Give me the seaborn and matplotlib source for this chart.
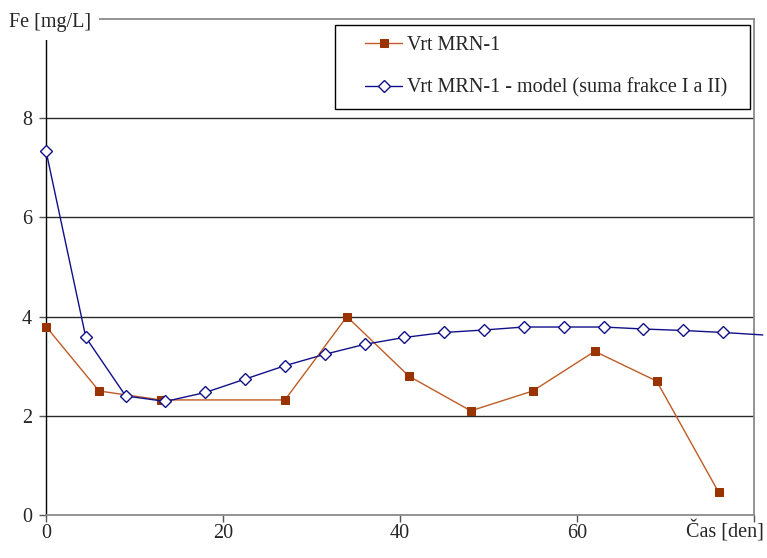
import matplotlib
matplotlib.use("Agg")
import matplotlib.pyplot as plt
from matplotlib.legend_handler import HandlerLine2D
import seaborn as sns
import pandas as pd

# Measured iron concentration in well MRN-1
days_measured = [0, 6, 13, 27, 34, 41, 48, 55, 62, 69, 76]
fe_measured = [3.8, 2.5, 2.32, 2.32, 4.0, 2.8, 2.1, 2.5, 3.3, 2.7, 0.46]

# Model (sum of fractions I and II)
days_model = [0, 4.5, 9, 13.5, 18, 22.5, 27, 31.5, 36, 40.5, 45, 49.5,
              54, 58.5, 63, 67.5, 72, 76.5, 81]
fe_model = [7.34, 3.58, 2.40, 2.29, 2.47, 2.74, 3.01, 3.24, 3.44, 3.58, 3.68,
            3.73, 3.79, 3.79, 3.79, 3.75, 3.72, 3.68, 3.63]

label_measured = "Vrt MRN-1"
label_model = "Vrt MRN-1 - model (suma frakce I a II)"
x_ticks = [0, 20, 40, 60, 80]
x_tick_labels = ["0", "20", "40", "60", ""]
y_ticks = [0, 2, 4, 6, 8]
y_tick_labels = ["0", "2", "4", "6", "8"]
x_title = "Čas [den]"
y_title = "Fe [mg/L]"

FS = 14.5

sns.set_style("white")
plt.rcParams["font.family"] = ["Liberation Serif", "DejaVu Serif"]
plt.rcParams["font.size"] = FS

df_meas = pd.DataFrame({"t": days_measured, "fe": fe_measured})
df_model = pd.DataFrame({"t": days_model, "fe": fe_model})

fig = plt.figure(figsize=(7.67, 5.58), dpi=100)
ax = fig.add_axes([46 / 767, 1 - 515 / 558, (754 - 46) / 767, (515 - 19) / 558])

sns.lineplot(data=df_meas, x="t", y="fe", ax=ax, color="#bf5b24", lw=1.0,
             marker="s", markersize=6, markerfacecolor="#993300",
             markeredgecolor="#993300", label=label_measured, zorder=3,
             clip_on=False)
sns.lineplot(data=df_model, x="t", y="fe", ax=ax, color="#10108a", lw=1.0,
             marker="D", markersize=6.5, markerfacecolor="white",
             markeredgecolor="#10108a", markeredgewidth=1.0,
             markevery=list(range(len(days_model) - 1)),
             label=label_model, zorder=4, clip_on=False)

ax.set_xlim(0, 80)
ax.set_ylim(0, 10)
ax.set_xticks(x_ticks)
ax.set_xticklabels(x_tick_labels)
ax.set_yticks(y_ticks)
ax.set_yticklabels(y_tick_labels)
ax.set_xlabel("")
ax.set_ylabel("")

# horizontal gridlines
for yv in [2, 4, 6, 8]:
    ax.axhline(yv, color="#2a2a2a", lw=1.0, zorder=1)

for side in ["top", "right", "bottom"]:
    ax.spines[side].set_visible(True)
    ax.spines[side].set_color("#8a8a8a")
    ax.spines[side].set_linewidth(1.3)
ax.spines["left"].set_color("black")
ax.spines["left"].set_linewidth(1.0)
ax.spines["left"].set_zorder(2)

ax.tick_params(axis="x", direction="out", length=5, width=1.0,
               color="#555555", pad=1.5, bottom=True)
ax.tick_params(axis="y", direction="out", length=5, width=1.0,
               color="#555555", pad=5, left=True)

# axis titles placed at the ends of the axes
ax.annotate(y_title, xy=(0, 10), xycoords="data", xytext=(3, -2.5),
            textcoords="offset points", ha="center", va="center",
            fontsize=FS, zorder=10, annotation_clip=False,
            bbox=dict(boxstyle="square,pad=0.4", fc="white", ec="none"))
ax.annotate(x_title, xy=(80, 0), xycoords="data", xytext=(7, -12),
            textcoords="offset points", ha="right", va="center",
            fontsize=FS, annotation_clip=False)

fs_px = FS * 100 / 72
leg = ax.legend(loc="upper left",
                bbox_to_anchor=(335 / 767, 1 - 25 / 558, 415 / 767, 0),
                bbox_transform=fig.transFigure, mode="expand",
                frameon=True, fancybox=False,
                edgecolor="black", framealpha=1, fontsize=FS,
                handlelength=56 / fs_px, handletextpad=5 / fs_px,
                labelspacing=1.15, borderpad=0.55, borderaxespad=0,
                handler_map={plt.Line2D: HandlerLine2D(xpad=19 / fs_px)})
leg.get_frame().set_linewidth(1.0)
leg.set_zorder(20)

fig.savefig("out.png", dpi=100)
